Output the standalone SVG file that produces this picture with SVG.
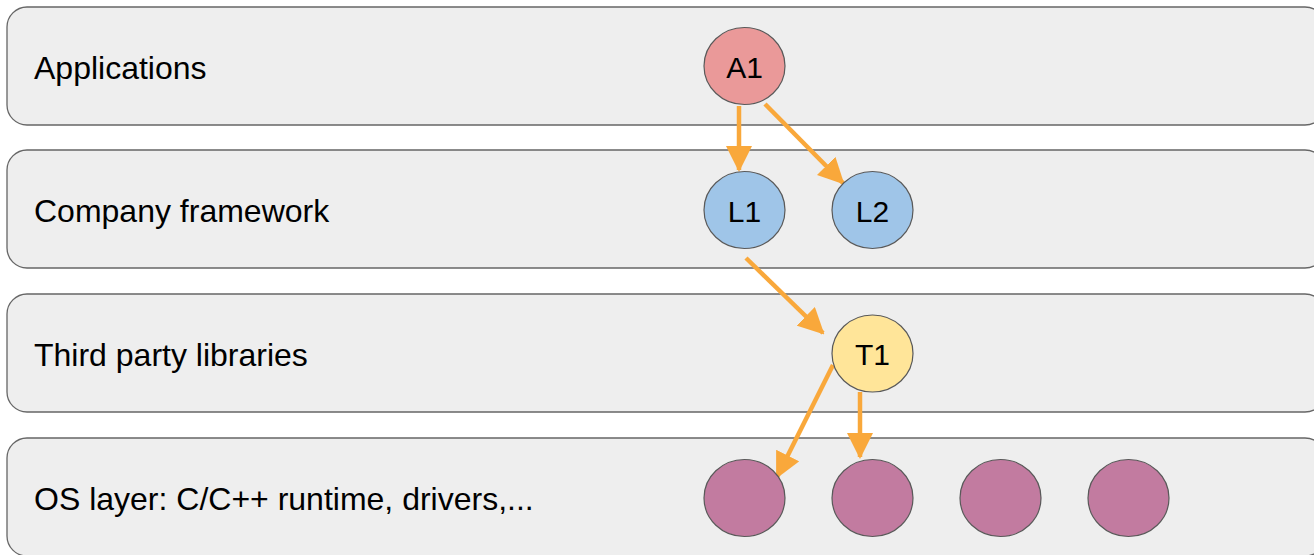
<svg xmlns="http://www.w3.org/2000/svg" width="1314" height="555" viewBox="0 0 1314 555">
  <style>
    .layer { fill: #eeeeee; stroke: #666666; stroke-width: 1.3; }
    .layer-label { font-family: "Liberation Sans", Arial, sans-serif; font-size: 32px; fill: #000000; }
    .node { stroke: #595959; stroke-width: 1.2; }
    .node-label { font-family: "Liberation Sans", Arial, sans-serif; font-size: 30px; fill: #000000; text-anchor: middle; dominant-baseline: central; }
    .app { fill: #ea9999; }
    .lib { fill: #9fc5e8; }
    .third { fill: #ffe599; }
    .os { fill: #c27ba0; }
    .edge { stroke: #f9a83b; stroke-width: 4.5; fill: none; marker-end: url(#arrow); }
  </style>
  <defs>
    <marker id="arrow" markerUnits="userSpaceOnUse" markerWidth="26" markerHeight="26" viewBox="0 0 26 26" refX="24" refY="13" orient="auto">
      <path d="M0,0 L26,13 L0,26 Z" fill="#f9a83b"/>
    </marker>
  </defs>

  <rect width="1314" height="555" fill="#ffffff"/>

  <!-- layer bands -->
  <g id="layer-applications">
    <rect class="layer" x="7" y="7" width="1318" height="118" rx="20" ry="20"/>
    <text class="layer-label" x="34" y="79">Applications</text>
  </g>
  <g id="layer-framework">
    <rect class="layer" x="7" y="150" width="1318" height="118" rx="20" ry="20"/>
    <text class="layer-label" x="34" y="222">Company framework</text>
  </g>
  <g id="layer-thirdparty">
    <rect class="layer" x="7" y="294" width="1318" height="118" rx="20" ry="20"/>
    <text class="layer-label" x="34" y="366">Third party libraries</text>
  </g>
  <g id="layer-os">
    <rect class="layer" x="7" y="438" width="1318" height="118" rx="20" ry="20"/>
    <text class="layer-label" x="34" y="510">OS layer: C/C++ runtime, drivers,...</text>
  </g>

  <!-- connectors -->
  <g id="connectors">
    <line class="edge" x1="739" y1="106" x2="739" y2="170"/>
    <line class="edge" x1="765" y1="104" x2="843" y2="183"/>
    <line class="edge" x1="746" y1="258" x2="823" y2="333"/>
    <line class="edge" x1="833" y1="365" x2="777" y2="477"/>
    <line class="edge" x1="860" y1="392" x2="860" y2="457"/>
  </g>

  <!-- nodes -->
  <g id="node-A1">
    <ellipse class="node app" cx="744.5" cy="66" rx="40.5" ry="38.5"/>
    <text class="node-label" x="744.5" y="67">A1</text>
  </g>
  <g id="node-L1">
    <ellipse class="node lib" cx="744.5" cy="210" rx="40.5" ry="38.5"/>
    <text class="node-label" x="744.5" y="211">L1</text>
  </g>
  <g id="node-L2">
    <ellipse class="node lib" cx="872.5" cy="210" rx="40.5" ry="38.5"/>
    <text class="node-label" x="872.5" y="211">L2</text>
  </g>
  <g id="node-T1">
    <ellipse class="node third" cx="872.5" cy="353.5" rx="40.5" ry="38.5"/>
    <text class="node-label" x="872.5" y="354.5">T1</text>
  </g>
  <g id="node-O1">
    <ellipse class="node os" cx="744.5" cy="498" rx="40.5" ry="38.5"/>
  </g>
  <g id="node-O2">
    <ellipse class="node os" cx="872.5" cy="498" rx="40.5" ry="38.5"/>
  </g>
  <g id="node-O3">
    <ellipse class="node os" cx="1000.5" cy="498" rx="40.5" ry="38.5"/>
  </g>
  <g id="node-O4">
    <ellipse class="node os" cx="1128.5" cy="498" rx="40.5" ry="38.5"/>
  </g>
</svg>
